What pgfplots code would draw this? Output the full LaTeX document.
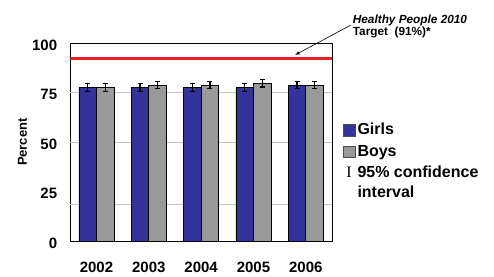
\documentclass[border=0pt]{standalone}
\usepackage{fontspec}
\setmainfont{Liberation Sans}
\newfontfamily\seriffont{Liberation Serif}
\usepackage{pgfplots}
\pgfplotsset{compat=1.18}
\definecolor{girls}{RGB}{51,51,153}
\definecolor{boys}{RGB}{153,153,153}
\definecolor{gridgray}{RGB}{192,192,192}
\definecolor{target}{RGB}{235,30,36}
\begin{document}
\begin{tikzpicture}
\useasboundingbox (-70.3pt,-35pt) rectangle (423.7pt,241pt);
\begin{axis}[
  scale only axis, width=261.7pt, height=197.7pt,
  xmin=-0.5, xmax=4.5, ymin=0, ymax=100,
  xtick={0,1,2,3,4}, xticklabels={2002,2003,2004,2005,2006},
  ytick={0,25,50,75,100},
  major tick length=0pt,
  extra y ticks={18.4,50,75}, extra y tick labels={},
  extra y tick style={grid=major, major tick length=0pt},
  major grid style={draw=gridgray, line width=0.9pt},
  axis line style={line width=0.8pt, black},
  /pgf/number format/assume math mode=true,
  tick label style={font=\bfseries\fontsize{15}{15}\selectfont},
  xticklabel style={yshift=-17pt},
  yticklabel style={xshift=-9.6pt, yshift=-2pt},
  ybar, bar width=0.335,
  error bars/y dir=both, error bars/y explicit,
  error bars/error bar style={line width=1.2pt, black},
  error bars/error mark options={rotate=90, mark size=2.5pt, line width=1.2pt, black},
]
\addplot[fill=girls, draw=black, line width=0.7pt, bar shift=-0.1675] coordinates {
  (0,77.7) +- (0,1.9)
  (1,77.7) +- (0,1.9)
  (2,77.7) +- (0,1.9)
  (3,77.7) +- (0,1.9)
  (4,78.9) +- (0,1.9)
};
\addplot[fill=boys, draw=black, line width=0.7pt, bar shift=0.1675] coordinates {
  (0,77.7) +- (0,1.9)
  (1,78.9) +- (0,1.9)
  (2,78.9) +- (0,1.9)
  (3,79.8) +- (0,1.9)
  (4,78.9) +- (0,1.9)
};
\addplot[sharp plot, target, line width=3pt, no marks, forget plot, error bars/y dir=none] coordinates {(-0.5,92.4) (4.5,92.4)};
\end{axis}
% y label
\node[rotate=90, font=\bfseries\fontsize{13}{13}\selectfont] at (-47.8pt,98.85pt) {Percent};
% annotation
\node[anchor=base west, font=\bfseries\itshape\fontsize{11.8}{11.8}\selectfont, inner sep=0pt] at (282.4pt,217pt) {Healthy People 2010};
\node[anchor=base west, font=\bfseries\fontsize{11.8}{11.8}\selectfont, inner sep=0pt] at (282.4pt,205pt) {Target\ \ (91\%)*};
\draw[-latex, line width=0.6pt] (280.7pt,216pt) -- (224.7pt,186pt);
% legend
\filldraw[fill=girls, draw=black!70, line width=0.5pt] (273pt,104.3pt) rectangle (284.7pt,116.7pt);
\filldraw[fill=boys, draw=black!70, line width=0.5pt] (273pt,83.3pt) rectangle (284.7pt,95pt);
\node[anchor=base west, font=\bfseries\fontsize{16}{16}\selectfont, inner sep=0pt] at (287pt,106.5pt) {Girls};
\node[anchor=base west, font=\bfseries\fontsize{16}{16}\selectfont, inner sep=0pt] at (287pt,85pt) {Boys};
\node[anchor=base, font=\seriffont\fontsize{16}{16}\selectfont, inner sep=0pt] at (278.7pt,64pt) {I};
\node[anchor=base west, font=\bfseries\fontsize{16}{16}\selectfont, inner sep=0pt] at (287pt,64pt) {95\% confidence};
\node[anchor=base west, font=\bfseries\fontsize{16}{16}\selectfont, inner sep=0pt] at (287pt,44pt) {interval};
\end{tikzpicture}
\end{document}
